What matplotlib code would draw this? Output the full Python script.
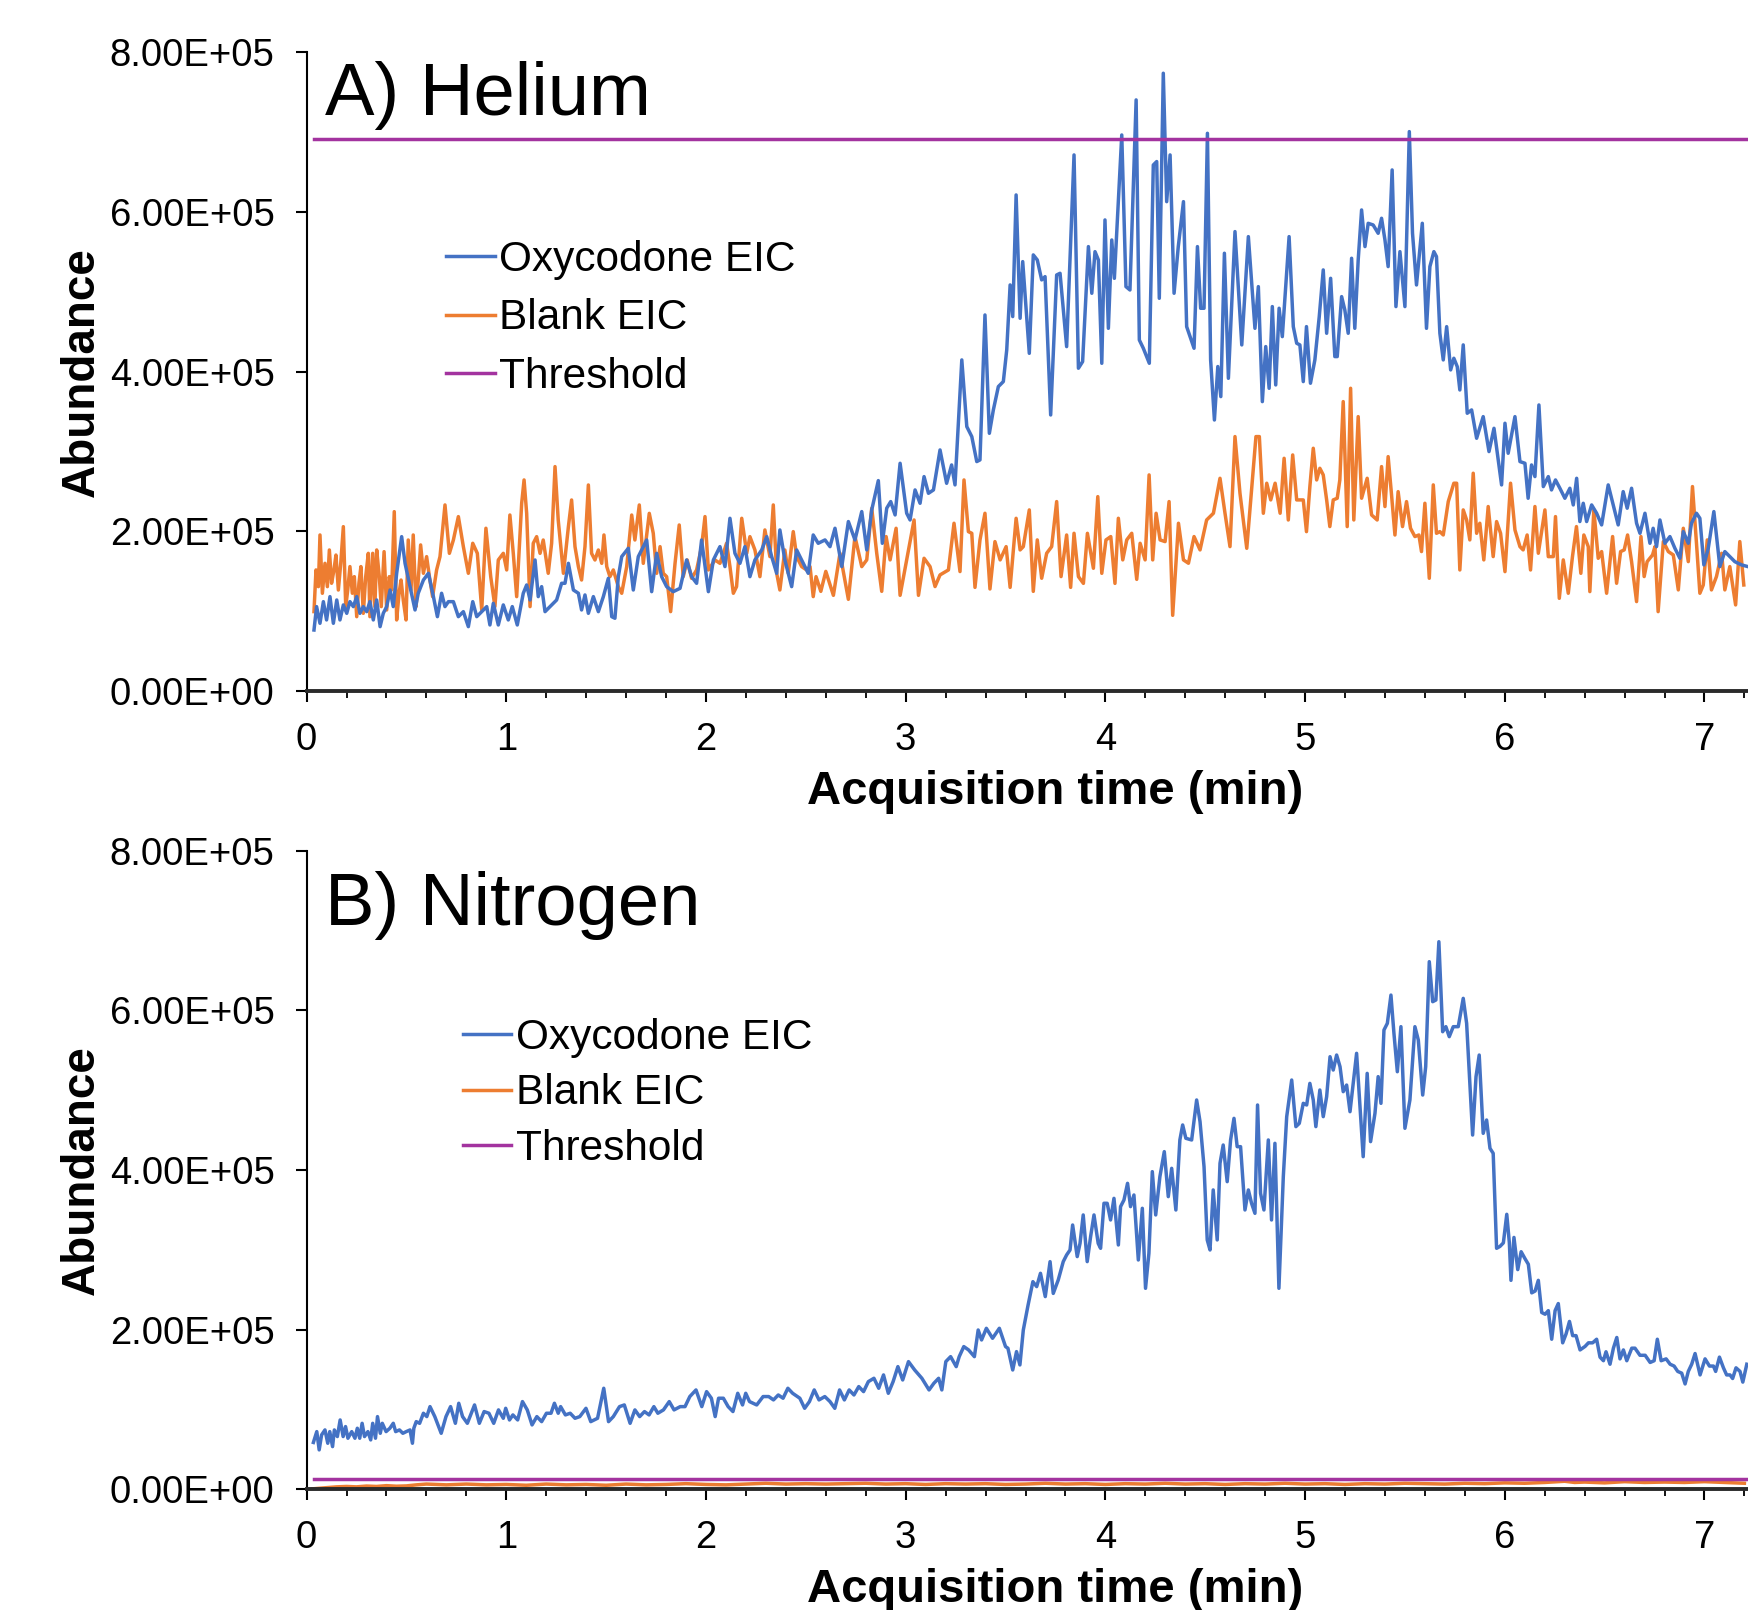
import numpy as np
import matplotlib
matplotlib.use("Agg")
import matplotlib.pyplot as plt
from matplotlib.ticker import MultipleLocator, FuncFormatter

plt.rcParams['font.family'] = ['Liberation Sans', 'DejaVu Sans']

# ---- Helium run: oxycodone EIC (time in min, abundance in thousands) ----
he_oxy_t = [0.037, 0.050, 0.067, 0.084, 0.100, 0.117, 0.134, 0.151, 0.167, 0.184, 0.201, 0.217, 0.234, 0.251, 0.267,
            0.284, 0.301, 0.317, 0.334, 0.351, 0.368, 0.384, 0.401, 0.418, 0.434, 0.451, 0.476, 0.493, 0.518, 0.543,
            0.559, 0.585, 0.610, 0.635, 0.655, 0.676, 0.693, 0.710, 0.735, 0.760, 0.785, 0.810, 0.832, 0.852, 0.877,
            0.902, 0.918, 0.935, 0.960, 0.985, 1.010, 1.030, 1.055, 1.085, 1.102, 1.119, 1.144, 1.160, 1.177, 1.194,
            1.219, 1.252, 1.277, 1.294, 1.311, 1.336, 1.361, 1.377, 1.394, 1.411, 1.436, 1.461, 1.486, 1.511, 1.528,
            1.544, 1.561, 1.578, 1.611, 1.636, 1.661, 1.686, 1.703, 1.728, 1.753, 1.778, 1.803, 1.836, 1.870, 1.903,
            1.928, 1.953, 1.978, 2.012, 2.037, 2.070, 2.095, 2.120, 2.145, 2.170, 2.195, 2.220, 2.245, 2.279, 2.304,
            2.329, 2.354, 2.370, 2.395, 2.429, 2.454, 2.479, 2.512, 2.537, 2.562,
            2.596, 2.621, 2.646, 2.680, 2.713, 2.746, 2.780, 2.805, 2.830, 2.863, 2.883, 2.905, 2.925, 2.947, 2.972,
            3.005, 3.022, 3.047, 3.072, 3.092, 3.114, 3.139, 3.172, 3.205, 3.230, 3.247, 3.281, 3.306, 3.331, 3.356,
            3.372, 3.397, 3.419, 3.439, 3.464, 3.489, 3.506, 3.523, 3.536, 3.553, 3.573, 3.586, 3.619, 3.639, 3.659,
            3.681, 3.698, 3.726, 3.756, 3.773, 3.806, 3.843, 3.865, 3.886, 3.915, 3.932, 3.948, 3.965, 3.982, 3.998,
            4.015, 4.032, 4.045, 4.082, 4.103, 4.123, 4.154, 4.170, 4.190, 4.220, 4.240, 4.257, 4.270, 4.290, 4.307,
            4.324, 4.344, 4.365, 4.391, 4.407, 4.424, 4.444, 4.461, 4.477, 4.494, 4.511, 4.527, 4.546, 4.563, 4.578,
            4.596, 4.616, 4.649, 4.683, 4.716, 4.749, 4.766, 4.786, 4.803, 4.820, 4.836, 4.853, 4.870, 4.886, 4.920,
            4.941, 4.958, 4.974, 4.991, 5.007, 5.027, 5.049, 5.071, 5.091, 5.108, 5.128, 5.149, 5.161, 5.183, 5.199,
            5.216, 5.233, 5.249, 5.266, 5.283, 5.300, 5.316, 5.341, 5.366, 5.383, 5.400, 5.416, 5.436, 5.455, 5.475,
            5.500, 5.522, 5.538, 5.558, 5.587, 5.608, 5.625, 5.645, 5.658, 5.675, 5.692, 5.709, 5.729, 5.745, 5.762,
            5.775, 5.792, 5.812, 5.834, 5.859, 5.892, 5.921, 5.946, 5.984, 6.001, 6.017, 6.051, 6.076, 6.101, 6.117,
            6.134, 6.151, 6.171, 6.193, 6.218, 6.234, 6.254, 6.276, 6.301, 6.326, 6.343, 6.360, 6.376, 6.393, 6.410,
            6.435, 6.460, 6.485, 6.518, 6.543, 6.568, 6.593, 6.613, 6.635, 6.660, 6.677, 6.702, 6.727, 6.743, 6.760,
            6.777, 6.802, 6.827, 6.852, 6.877, 6.894, 6.919, 6.935, 6.960, 6.977, 6.997, 7.019, 7.047, 7.077, 7.102,
            7.127, 7.152, 7.186, 7.217]
he_oxy_k = [76.6, 105.9, 85.0, 112.1, 89.2, 118.4, 85.0, 114.2, 89.2, 108.0, 97.5, 112.1, 105.9, 118.4, 97.5,
            105.9, 99.6, 112.1, 89.2, 114.2, 80.8, 97.5, 105.9, 126.7, 105.9, 147.6, 193.5, 160.1, 130.9, 101.7,
            122.6, 139.2, 147.6, 118.4, 93.3, 122.6, 105.9, 112.1, 112.1, 93.3, 99.6, 80.8, 112.1, 93.3, 99.6,
            105.9, 82.9, 110.0, 82.9, 108.0, 89.2, 105.9, 82.9, 122.6, 133.0, 114.2, 164.3, 118.4, 130.9, 99.6,
            105.9, 114.2, 135.1, 135.1, 160.1, 126.7, 122.6, 101.7, 120.5, 97.5, 118.4, 99.6, 118.4, 141.3, 93.3,
            91.3, 143.4, 168.5, 178.9, 126.7, 168.5, 181.0, 189.3, 124.6, 172.6, 143.4, 130.9, 124.6, 128.8, 164.3,
            143.4, 135.1, 189.3, 124.6, 164.3, 181.0, 156.0, 216.5, 172.6, 160.1, 181.0, 143.4, 164.3, 176.8, 193.5,
            168.5, 147.6, 201.9, 164.3, 130.9, 176.8, 164.3, 147.6, 195.6, 185.2,
            189.4, 181.0, 204.0, 156.0, 212.4, 189.4, 224.9, 176.9, 227.0, 263.7, 185.2, 229.1, 237.4, 220.7, 285.4,
            222.8, 214.4, 252.0, 235.3, 268.7, 247.8, 252.0, 302.1, 260.3, 283.3, 258.3, 414.8, 331.3, 318.8, 287.5,
            289.6, 471.1, 322.9, 352.2, 381.4, 387.7, 427.3, 508.7, 469.1, 621.4, 467.0, 537.9, 423.1, 546.3, 540.0,
            515.0, 519.1, 345.9, 521.2, 523.3, 431.5, 671.5, 404.4, 412.7, 556.7, 498.3, 550.4, 540.0, 410.6, 590.1,
            454.4, 565.0, 517.0, 696.5, 506.6, 502.4, 740.4, 439.8, 429.4, 410.6, 658.9, 663.2, 492.0, 773.8, 613.0,
            671.5, 498.3, 556.7, 613.0, 456.5, 444.0, 429.4, 556.7, 479.5, 479.5, 698.6, 414.8, 339.6, 406.5, 368.9,
            548.4, 391.8, 575.5, 433.6, 569.2, 454.4, 506.6, 362.6, 431.5, 379.3, 481.6, 383.5, 479.5, 444.0, 569.2,
            456.5, 435.7, 433.6, 387.7, 456.5, 385.6, 414.8, 469.1, 527.5, 448.2, 517.0, 419.0, 419.0, 494.1, 477.4,
            448.2, 542.1, 454.4, 540.0, 602.6, 556.7, 585.9, 583.8, 573.4, 592.2, 565.0, 531.7, 652.7, 481.6, 550.4,
            481.6, 700.7, 573.4, 508.7, 585.9, 454.4, 531.7, 550.4, 544.2, 448.2, 414.8, 456.5, 402.3, 416.9, 406.4,
            377.2, 433.6, 348.0, 352.2, 316.7, 343.8, 300.0, 329.2, 258.3, 335.5, 297.9, 343.8, 287.5, 285.4, 241.6,
            283.3, 268.7, 358.4, 256.2, 268.7, 252.0, 264.5, 254.1, 241.6, 254.1, 233.2, 266.6, 212.4, 235.3, 212.4,
            233.2, 222.8, 208.2, 258.3, 233.2, 208.2, 249.9, 229.1, 254.1, 210.3, 197.7, 222.8, 185.2, 204.0, 181.0,
            214.4, 185.2, 193.6, 178.9, 166.4, 199.8, 185.2, 210.3, 222.8, 216.5, 158.1, 178.9, 224.9, 156.0, 174.8,
            168.5, 162.2, 158.1, 156.0]

# ---- Helium run: blank EIC ----
he_blank_t = [0.037, 0.047, 0.059, 0.067, 0.079, 0.092, 0.104, 0.114, 0.125, 0.137, 0.147, 0.159, 0.171, 0.184, 0.196,
              0.206, 0.217, 0.229, 0.239, 0.251, 0.262, 0.272, 0.284, 0.296, 0.309, 0.317, 0.331, 0.342, 0.351, 0.364,
              0.374, 0.388, 0.401, 0.414, 0.426, 0.439, 0.451, 0.463, 0.473, 0.484, 0.498, 0.509, 0.523, 0.534, 0.548,
              0.559, 0.571, 0.585, 0.601, 0.615, 0.631, 0.651, 0.668, 0.693, 0.715, 0.735, 0.760, 0.785, 0.810, 0.832,
              0.855, 0.877, 0.898, 0.922, 0.943, 0.960, 0.985, 1.002, 1.018, 1.035, 1.052, 1.077, 1.089, 1.102, 1.119,
              1.135, 1.152, 1.169, 1.185, 1.210, 1.227, 1.244, 1.260, 1.286, 1.311, 1.327, 1.344, 1.361, 1.377, 1.394,
              1.411, 1.427, 1.444, 1.461, 1.478, 1.489, 1.503, 1.519, 1.536, 1.561, 1.578, 1.603, 1.628, 1.644, 1.666,
              1.686, 1.716, 1.736, 1.753, 1.770, 1.786, 1.803, 1.823, 1.845, 1.866, 1.886, 1.906, 1.928, 1.953, 1.978,
              1.995, 2.012, 2.045, 2.070, 2.087, 2.103, 2.120, 2.137, 2.153, 2.179, 2.204, 2.220, 2.245, 2.270, 2.295,
              2.320, 2.337, 2.354, 2.370, 2.395, 2.412, 2.437, 2.454, 2.479, 2.504, 2.521, 2.537, 2.551,
              2.575, 2.600, 2.638, 2.671, 2.713, 2.746, 2.780, 2.805, 2.830, 2.855, 2.880, 2.902, 2.922, 2.952, 2.972,
              3.005, 3.042, 3.064, 3.092, 3.122, 3.147, 3.172, 3.214, 3.242, 3.272, 3.292, 3.314, 3.331, 3.347, 3.372,
              3.397, 3.422, 3.447, 3.473, 3.503, 3.523, 3.553, 3.573, 3.589, 3.619, 3.639, 3.659, 3.681, 3.706, 3.731,
              3.756, 3.778, 3.806, 3.826, 3.843, 3.865, 3.890, 3.910, 3.940, 3.962, 3.982, 4.003, 4.027, 4.048, 4.065,
              4.087, 4.107, 4.132, 4.157, 4.174, 4.199, 4.219, 4.237, 4.254, 4.274, 4.299, 4.319, 4.337, 4.366, 4.391,
              4.416, 4.444, 4.474, 4.507, 4.541, 4.574, 4.599, 4.624, 4.649, 4.674, 4.708, 4.754, 4.771, 4.791, 4.808,
              4.828, 4.850, 4.875, 4.895, 4.916, 4.938, 4.958, 4.991, 5.007, 5.024, 5.041, 5.058, 5.074, 5.091, 5.108,
              5.124, 5.141, 5.161, 5.174, 5.191, 5.211, 5.228, 5.244, 5.266, 5.283, 5.311, 5.333, 5.361, 5.383, 5.400,
              5.416, 5.433, 5.450, 5.466, 5.488, 5.508, 5.528, 5.550, 5.570, 5.583, 5.600, 5.622, 5.642, 5.658, 5.675,
              5.692, 5.717, 5.745, 5.759, 5.775, 5.792, 5.809, 5.825, 5.842, 5.859, 5.875, 5.895, 5.917, 5.942, 5.959,
              5.979, 6.001, 6.029, 6.051, 6.076, 6.092, 6.112, 6.129, 6.151, 6.168, 6.201, 6.218, 6.243, 6.254, 6.273,
              6.293, 6.318, 6.339, 6.359, 6.381, 6.396, 6.418, 6.426, 6.446, 6.468, 6.485, 6.510, 6.540, 6.560, 6.580,
              6.598, 6.615, 6.635, 6.660, 6.682, 6.698, 6.713, 6.740, 6.752, 6.768, 6.794, 6.819, 6.844, 6.869, 6.894,
              6.919, 6.940, 6.960, 6.977, 6.994, 7.014, 7.035, 7.060, 7.086, 7.102, 7.127, 7.156, 7.177, 7.197]
he_blank_k = [99.6, 151.8, 130.9, 195.6, 122.6, 160.1, 130.9, 176.8, 135.1, 151.8, 170.5, 126.7, 160.1, 206.0, 105.9,
              126.7, 156.0, 122.6, 143.4, 93.3, 135.1, 156.0, 97.5, 143.4, 172.6, 93.3, 172.6, 105.9, 176.8, 143.4,
              105.9, 174.7, 101.7, 143.4, 126.7, 224.8, 89.2, 122.6, 139.2, 114.2, 89.2, 189.3, 126.7, 195.6, 105.9,
              139.2, 183.1, 147.6, 168.5, 143.4, 118.4, 151.8, 168.5, 233.2, 172.6, 189.3, 218.6, 181.0, 147.6, 185.2,
              172.6, 101.7, 204.0, 143.4, 105.9, 164.3, 172.6, 151.8, 220.6, 172.6, 118.4, 235.3, 264.5, 222.7, 105.9,
              185.2, 193.5, 172.6, 189.3, 147.6, 185.2, 281.2, 214.4, 147.6, 206.0, 239.4, 181.0, 156.0, 139.2, 181.0,
              258.2, 172.6, 164.3, 176.8, 160.1, 195.6, 156.0, 143.4, 151.8, 130.9, 122.6, 156.0, 220.6, 189.3, 233.2,
              160.1, 222.7, 197.7, 147.6, 181.0, 147.6, 143.4, 99.6, 160.1, 208.1, 143.4, 164.3, 141.3, 151.8, 181.0,
              218.6, 151.8, 164.3, 160.1, 172.6, 185.2, 156.0, 122.6, 130.9, 216.5, 172.6, 193.5, 176.8, 143.4, 201.9,
              168.5, 233.2, 147.6, 126.7, 176.8, 147.6, 199.8, 168.5, 156.0, 151.8, 156.0, 118.4, 143.4,
              125.0, 150.0, 120.0, 172.7, 115.0, 193.6, 156.0, 164.4, 229.1, 172.7, 125.0, 193.6, 164.4, 204.0, 120.0,
              164.4, 214.4, 120.0, 166.4, 156.0, 131.0, 145.6, 151.8, 210.3, 149.8, 264.5, 199.8, 197.7, 130.0, 189.4,
              222.8, 128.0, 187.3, 164.4, 181.0, 130.0, 216.5, 176.9, 181.0, 227.0, 125.0, 189.4, 141.4, 172.7, 181.0,
              237.4, 143.5, 195.6, 130.0, 197.7, 143.5, 135.0, 197.7, 153.9, 243.6, 147.6, 189.4, 193.6, 135.0, 216.5,
              164.4, 189.4, 197.7, 140.0, 185.2, 164.4, 270.8, 164.4, 222.8, 189.4, 187.3, 237.4, 95.0, 210.3, 164.4,
              160.2, 193.6, 176.9, 214.4, 222.8, 266.6, 222.8, 181.0, 318.8, 247.8, 178.9, 318.8, 318.8, 222.8, 260.4,
              239.5, 260.4, 222.8, 291.6, 214.4, 295.8, 239.5, 239.5, 199.8, 256.2, 304.2, 264.5, 279.1, 270.8, 239.5,
              206.1, 239.5, 241.6, 264.5, 362.6, 206.1, 379.3, 214.4, 343.8, 241.6, 266.6, 220.7, 214.4, 281.2, 231.2,
              293.7, 245.8, 195.6, 249.9, 206.1, 237.4, 204.0, 193.6, 195.6, 174.8, 235.3, 141.4, 258.3, 197.7, 199.8,
              195.6, 237.4, 260.4, 260.4, 151.8, 227.0, 214.4, 189.4, 272.9, 197.7, 210.3, 164.4, 231.2, 168.5, 212.4,
              197.7, 149.7, 260.4, 201.9, 181.0, 176.9, 195.6, 151.8, 231.2, 172.7, 227.0, 168.5, 168.5, 218.6, 116.3,
              164.4, 122.6, 168.5, 206.1, 147.6, 195.6, 181.0, 124.7, 227.0, 166.4, 174.8, 122.6, 193.6, 135.1, 174.8,
              176.9, 195.6, 162.2, 112.2, 193.6, 143.5, 162.2, 170.6, 181.0, 99.6, 187.3, 174.8, 170.6, 126.8, 204.0,
              162.2, 256.2, 185.2, 122.6, 133.0, 189.4, 126.8, 143.5, 172.7, 126.8, 156.0, 108.0, 187.3, 133.0]

# ---- Nitrogen run: oxycodone EIC ----
n2_oxy_t = [0.034, 0.051, 0.063, 0.075, 0.092, 0.106, 0.116, 0.130, 0.139, 0.154, 0.168, 0.183, 0.195, 0.207, 0.226,
            0.242, 0.254, 0.266, 0.278, 0.290, 0.307, 0.321, 0.331, 0.345, 0.355, 0.369, 0.379, 0.398, 0.417, 0.434,
            0.446, 0.465, 0.482, 0.499, 0.518, 0.530, 0.537, 0.549, 0.566, 0.585, 0.602, 0.618, 0.642, 0.674, 0.698,
            0.721, 0.745, 0.762, 0.781, 0.805, 0.841, 0.865, 0.889, 0.913, 0.937, 0.961, 0.985, 0.997, 1.016, 1.033,
            1.057, 1.081, 1.105, 1.129, 1.153, 1.177, 1.201, 1.224, 1.241, 1.260, 1.272, 1.296, 1.320, 1.344, 1.368,
            1.399, 1.423, 1.457, 1.488, 1.512, 1.536, 1.567, 1.591, 1.620, 1.644, 1.668, 1.692, 1.715, 1.739, 1.759,
            1.787, 1.816, 1.840, 1.871, 1.895, 1.919, 1.950, 1.979, 2.003, 2.027, 2.046, 2.063, 2.087, 2.111, 2.135,
            2.159, 2.183, 2.199, 2.218, 2.254, 2.286, 2.314, 2.338, 2.362, 2.386, 2.410, 2.434, 2.470, 2.494, 2.518,
            2.542, 2.566, 2.595, 2.621, 2.645, 2.669, 2.693, 2.717, 2.741, 2.765, 2.789, 2.813, 2.841, 2.865, 2.889,
            2.913, 2.937, 2.961, 2.985, 3.014, 3.045, 3.081, 3.117, 3.141, 3.165, 3.181, 3.201, 3.225, 3.253, 3.268,
            3.291, 3.315, 3.344, 3.363, 3.380, 3.404, 3.435, 3.469, 3.500, 3.512, 3.536, 3.555, 3.572, 3.589, 3.613,
            3.637, 3.656, 3.675, 3.699, 3.723, 3.739, 3.764, 3.789, 3.806, 3.823, 3.836, 3.859, 3.873, 3.889, 3.909,
            3.926, 3.943, 3.964, 3.976, 3.993, 4.009, 4.026, 4.043, 4.065, 4.076, 4.093, 4.111, 4.126, 4.143, 4.165,
            4.185, 4.201, 4.218, 4.235, 4.252, 4.273, 4.295, 4.315, 4.332, 4.353, 4.373, 4.387, 4.403, 4.432, 4.457,
            4.474, 4.494, 4.510, 4.524, 4.540, 4.560, 4.574, 4.590, 4.610, 4.627, 4.644, 4.660, 4.677, 4.699, 4.716,
            4.732, 4.749, 4.762, 4.777, 4.794, 4.816, 4.832, 4.849, 4.869, 4.891, 4.908, 4.933, 4.954, 4.971, 4.991,
            5.008, 5.024, 5.041, 5.054, 5.074, 5.091, 5.108, 5.125, 5.141, 5.158, 5.175, 5.191, 5.208, 5.225, 5.258,
            5.291, 5.311, 5.328, 5.350, 5.366, 5.380, 5.395, 5.412, 5.430, 5.445, 5.462, 5.480, 5.500, 5.525, 5.550,
            5.567, 5.589, 5.604, 5.622, 5.639, 5.655, 5.670, 5.689, 5.705, 5.722, 5.742, 5.767, 5.792, 5.809, 5.839,
            5.856, 5.872, 5.892, 5.909, 5.926, 5.942, 5.959, 5.976, 5.993, 6.010, 6.023, 6.031, 6.046, 6.065, 6.082,
            6.102, 6.118, 6.135, 6.152, 6.168, 6.185, 6.202, 6.218, 6.235, 6.252, 6.268, 6.290, 6.307, 6.324, 6.340,
            6.357, 6.377, 6.402, 6.419, 6.440, 6.460, 6.477, 6.494, 6.507, 6.527, 6.544, 6.561, 6.577, 6.594, 6.611,
            6.636, 6.652, 6.677, 6.703, 6.728, 6.748, 6.764, 6.783, 6.808, 6.828, 6.848, 6.866, 6.886, 6.903, 6.919,
            6.936, 6.953, 6.978, 7.003, 7.025, 7.045, 7.056, 7.075, 7.095, 7.111, 7.128, 7.141, 7.158, 7.178, 7.192,
            7.212]
n2_oxy_k = [58.6, 72.2, 49.3, 68.0, 74.3, 57.6, 72.2, 53.4, 74.3, 66.0, 86.8, 66.0, 78.5, 63.9, 72.2,
            63.9, 76.4, 63.9, 82.6, 66.0, 72.2, 61.8, 82.6, 63.9, 91.0, 70.1, 82.6, 72.2, 76.4, 82.6,
            72.2, 74.3, 70.1, 72.2, 74.3, 57.6, 76.4, 84.7, 82.6, 95.2, 91.0, 103.5, 91.0, 70.1, 91.0,
            103.5, 82.6, 107.7, 91.0, 82.6, 105.6, 82.6, 97.3, 95.2, 82.6, 99.4, 88.9, 101.4, 86.8, 93.1,
            86.8, 109.8, 99.4, 80.6, 91.0, 84.7, 95.2, 95.2, 107.7, 95.2, 103.5, 93.1, 95.2, 88.9, 91.0,
            101.4, 84.7, 88.9, 126.5, 84.7, 91.0, 103.5, 105.6, 82.6, 99.4, 91.0, 97.3, 93.1, 103.5, 95.2,
            99.4, 109.8, 99.4, 103.5, 103.5, 116.1, 124.4, 103.5, 122.3, 114.0, 91.0, 114.0, 114.0, 103.5, 97.3,
            120.2, 105.6, 120.2, 109.8, 105.6, 116.1, 116.1, 111.9, 118.1, 114.0, 126.5, 120.2, 114.0, 101.4, 109.8,
            124.4, 111.9, 116.1, 109.8, 101.4, 124.4, 111.9, 124.4, 118.1, 128.6, 122.3, 134.8, 139.0, 126.5, 143.2,
            120.2, 134.8, 153.6, 136.9, 159.9, 149.4, 139.0, 124.4, 132.7, 139.0, 124.4, 159.9, 166.1, 153.6, 166.1,
            178.7, 174.5, 166.1, 199.5, 187.0, 201.6, 189.1, 201.6, 178.7, 176.6, 149.4, 172.4, 155.7, 199.5, 230.8,
            260.0, 253.8, 270.5, 241.3, 285.1, 245.3, 262.2, 285.1, 293.5, 299.7, 331.0, 291.4, 308.0, 343.6, 285.1,
            316.4, 343.6, 308.0, 301.8, 358.2, 358.2, 337.3, 364.4, 306.0, 354.0, 362.3, 383.2, 354.0, 368.6, 287.2,
            351.9, 251.7, 295.6, 397.8, 343.6, 391.6, 422.9, 366.5, 402.0, 349.8, 437.5, 456.3, 439.6, 437.5, 487.6,
            460.4, 404.1, 312.3, 299.7, 374.9, 312.3, 408.3, 431.2, 385.3, 437.5, 464.6, 429.1, 429.1, 349.8, 374.9,
            358.2, 345.6, 481.3, 370.7, 349.8, 437.5, 337.3, 433.3, 251.7, 391.6, 466.7, 512.6, 454.2, 458.3, 483.4,
            481.3, 508.4, 487.6, 454.2, 500.1, 466.7, 491.7, 541.8, 525.1, 543.9, 529.3, 498.0, 506.3, 472.9, 546.0,
            416.6, 520.9, 435.4, 470.9, 516.8, 483.4, 575.2, 583.6, 619.0, 571.0, 523.0, 579.4, 452.1, 487.6, 579.4,
            562.7, 493.8, 529.3, 660.8, 610.7, 612.8, 685.8, 573.1, 579.4, 566.9, 579.4, 579.4, 614.9, 583.6, 443.7,
            516.8, 543.9, 445.8, 462.5, 427.0, 420.8, 301.8, 304.2, 308.6, 344.4, 308.6, 261.7, 315.4, 275.1, 297.5,
            288.5, 281.8, 246.0, 248.3, 261.7, 221.4, 219.2, 223.7, 187.9, 223.7, 232.6, 183.4, 194.6, 210.2, 192.4,
            192.4, 174.5, 178.9, 183.4, 183.4, 187.9, 165.5, 161.0, 172.2, 156.6, 176.7, 190.1, 163.3, 174.5, 161.0,
            176.7, 176.7, 167.8, 167.8, 158.8, 161.0, 187.9, 161.0, 163.3, 156.6, 154.3, 147.6, 145.4, 131.9, 147.6,
            156.6, 170.0, 143.2, 163.3, 154.3, 154.3, 147.6, 165.5, 152.1, 143.2, 143.2, 138.7, 152.1, 147.6, 134.2,
            156.6]

# ---- Nitrogen run: blank EIC ----
n2_blank_t = [0.03, 0.10, 0.15, 0.20, 0.25, 0.30, 0.35, 0.40, 0.45, 0.50, 0.55, 0.60, 0.70, 0.80, 0.90, 1.00,
              1.10, 1.20, 1.30, 1.40, 1.50, 1.60, 1.70, 1.80, 1.90, 2.00, 2.10, 2.20, 2.30, 2.40, 2.50, 2.60,
              2.70, 2.80, 2.90, 3.00, 3.10, 3.20, 3.30, 3.40, 3.50, 3.60, 3.70, 3.80, 3.90, 4.00, 4.10, 4.20,
              4.30, 4.40, 4.50, 4.60, 4.70, 4.80, 4.90, 5.00, 5.10, 5.20, 5.30, 5.40, 5.50, 5.60, 5.70, 5.80,
              5.90, 6.00, 6.10, 6.20, 6.30, 6.35, 6.40, 6.50, 6.60, 6.70, 6.80, 6.90, 7.00, 7.10, 7.20]
n2_blank_k = [0.5, 2.0, 3.0, 3.5, 3.0, 4.0, 3.5, 4.5, 3.8, 4.2, 5.5, 6.5, 5.5, 6.5, 5.5, 6.0,
              5.0, 6.5, 5.5, 6.0, 5.0, 6.5, 5.5, 6.0, 7.0, 6.0, 5.5, 6.5, 7.5, 6.5, 7.0, 6.5,
              7.0, 7.5, 6.5, 7.0, 6.0, 7.0, 6.5, 7.0, 6.0, 6.5, 7.5, 6.5, 7.0, 6.0, 7.0, 6.5,
              7.5, 6.5, 7.0, 6.0, 7.0, 6.5, 7.5, 6.5, 7.0, 6.0, 7.0, 6.5, 7.5, 7.0, 6.5, 7.5,
              7.0, 8.0, 7.5, 8.5, 10.0, 8.5, 9.0, 8.0, 9.5, 8.5, 9.0, 8.5, 9.5, 8.5, 7.5]

he_threshold = 692000
n2_threshold = 12500
thr_span = [0.036, 7.218]

panel_titles = ['A) Helium', 'B) Nitrogen']
series_names = ['Oxycodone EIC', 'Blank EIC', 'Threshold']

BLUE = '#4472C4'
ORANGE = '#ED7D31'
PURPLE = '#A3339F'

fig = plt.figure(figsize=(17.48, 16.10), dpi=100)
ax_top = fig.add_axes([0.1754, 0.5707, 0.8246, 0.3968])
ax_bot = fig.add_axes([0.1754, 0.0750, 0.8246, 0.3967])

panels = [
    (ax_top, he_oxy_t, he_oxy_k, he_blank_t, he_blank_k, he_threshold, 0.902, (0.0967, 0.706), 0.43),
    (ax_bot, n2_oxy_t, n2_oxy_k, n2_blank_t, n2_blank_k, n2_threshold, 0.883, (0.1082, 0.7375), 0.36),
]

for i, (ax, ot, ok, bt, bk, thr, title_y, leg_xy, leg_sp) in enumerate(panels):
    ax.plot(ot, np.array(ok) * 1000, color=BLUE, lw=2.5, solid_joinstyle='round', label=series_names[0], zorder=3)
    ax.plot(bt, np.array(bk) * 1000, color=ORANGE, lw=2.5, solid_joinstyle='round', label=series_names[1], zorder=2)
    ax.plot(thr_span, [thr, thr], color=PURPLE, lw=2.5, label=series_names[2], zorder=4)

    ax.set_xlim(0, 7.218)
    ax.set_ylim(0, 800000)
    ax.yaxis.set_major_locator(MultipleLocator(200000))
    ax.yaxis.set_major_formatter(FuncFormatter(lambda v, p: '{:.2E}'.format(v)))
    ax.xaxis.set_major_locator(MultipleLocator(1))
    ax.xaxis.set_minor_locator(MultipleLocator(0.2))

    for s in ['top', 'right']:
        ax.spines[s].set_visible(False)
    ax.spines['left'].set_linewidth(1.5)
    ax.spines['bottom'].set_linewidth(2.8)
    ax.spines['bottom'].set_color('#2a2a2a')

    ax.tick_params(axis='y', which='major', direction='out', length=8, width=1.5, labelsize=27.5, pad=15)
    ax.tick_params(axis='x', which='major', direction='out', length=8, width=1.5, labelsize=27.5, pad=14)
    ax.tick_params(axis='x', which='minor', direction='out', length=5, width=1.3)

    ax.set_ylabel('Abundance', fontsize=33, fontweight='bold')
    ax.yaxis.set_label_coords(-0.156, 0.5)
    ax.yaxis.label.set_va('center')
    ax.set_xlabel('Acquisition time (min)', fontsize=34, fontweight='bold')
    ax.xaxis.set_label_coords(0.519, -0.123)

    ax.text(0.013, title_y, panel_titles[i], transform=ax.transAxes, fontsize=53.5, va='baseline', ha='left')

    ax.legend(loc='upper left', bbox_to_anchor=leg_xy, frameon=False, fontsize=30.5,
              handlelength=1.15, handletextpad=0.1, borderpad=0, borderaxespad=0, labelspacing=leg_sp)

fig.savefig('out.png', dpi=100)
